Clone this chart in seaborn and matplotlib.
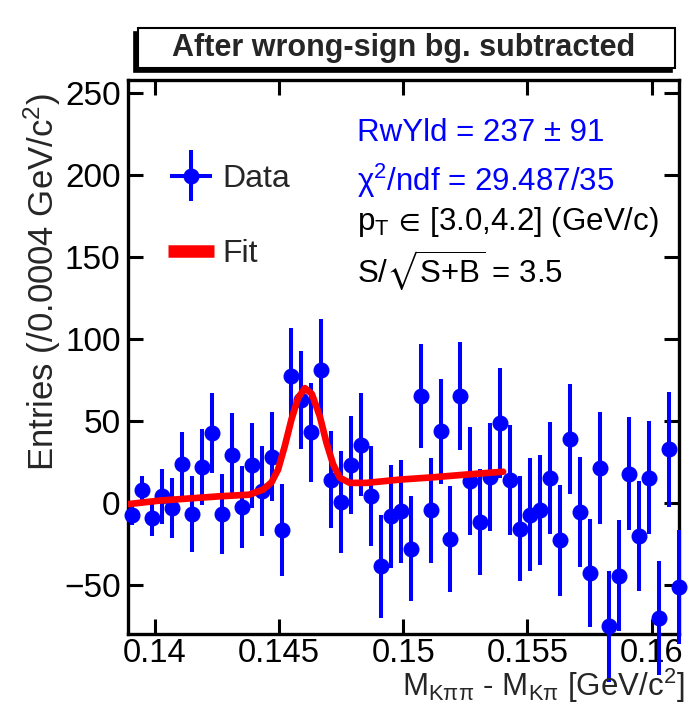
import matplotlib
matplotlib.use("Agg")
import matplotlib.pyplot as plt
import numpy as np
import pandas as pd
import seaborn as sns
from matplotlib.lines import Line2D
from matplotlib.patches import Rectangle
from matplotlib.container import ErrorbarContainer
from matplotlib.legend_handler import HandlerErrorbar

# ---------------- data ----------------
bin_centers = [0.1391, 0.1395, 0.1399, 0.1403, 0.1407, 0.1411, 0.1415, 0.1419,
               0.1423, 0.1427, 0.1431, 0.1435, 0.1439, 0.1443, 0.1447, 0.1451,
               0.1455, 0.1459, 0.1463, 0.1467, 0.1471, 0.1475, 0.1479, 0.1483,
               0.1487, 0.1491, 0.1495, 0.1499, 0.1503, 0.1507, 0.1511, 0.1515,
               0.1519, 0.1523, 0.1527, 0.1531, 0.1535, 0.1539, 0.1543, 0.1547,
               0.1551, 0.1555, 0.1559, 0.1563, 0.1567, 0.1571, 0.1575, 0.1579,
               0.1583, 0.1587, 0.1591, 0.1595, 0.1599, 0.1603, 0.1607, 0.1611]
entries = [-7.4, 8.1, -9.2, 4.0, -3.0, 23.8, -6.8, 21.8, 42.8, -6.5, 29.5, -2.4,
           23.0, 7.5, 28.2, -16.6, 77.4, 62.6, 43.0, 81.0, 14.2, 0.4, 23.0, 35.6,
           4.0, -38.7, -8.2, -5.1, -28.1, 65.2, -4.5, 43.8, -22.0, 65.2, 13.2, -11.8,
           15.8, 48.9, 14.2, -15.9, -7.2, -4.1, 15.3, -22.8, 39.1, -5.7, -42.8, 21.4,
           -75.4, -44.4, 17.9, -20.4, 15.3, -70.3, 32.6, -51.3]
errors = [6.0, 8.0, 11.0, 16.8, 18.2, 19.3, 22.9, 23.4, 24.4, 24.4, 25.5, 24.9,
          25.9, 27.5, 27.0, 28.0, 29.4, 30.0, 30.0, 31.0, 29.5, 31.0, 30.0, 31.5,
          30.5, 31.5, 31.5, 31.5, 32.0, 31.5, 32.0, 32.0, 32.5, 33.0, 33.0, 32.5,
          33.0, 33.5, 33.5, 32.0, 34.5, 33.5, 34.0, 34.0, 33.5, 33.5, 33.0, 34.0,
          34.0, 34.0, 34.5, 33.5, 34.5, 35.0, 35.0, 35.0]
half_bin = 0.0002

fit_x = [0.1389, 0.1402, 0.1413, 0.1426, 0.1438, 0.14436, 0.1447, 0.14496,
         0.14523, 0.1455, 0.14577, 0.14604, 0.14632, 0.14664, 0.14691, 0.14718,
         0.14745, 0.14785, 0.14852, 0.14986, 0.1512, 0.15255, 0.15402]
fit_y = [-0.8, 1.4, 2.6, 4.0, 5.0, 8.1, 12.6, 20.3, 34.6, 50.9, 64.1, 70.0,
         66.5, 52.9, 36.6, 23.4, 15.3, 12.2, 12.2, 14.2, 15.6, 17.3, 19.0]

x_ticks = [0.14, 0.145, 0.15, 0.155, 0.16]
x_tick_labels = ["0.14", "0.145", "0.15", "0.155", "0.16"]
y_ticks = [-50, 0, 50, 100, 150, 200, 250]

title_text = "After wrong-sign bg. subtracted"
info_lines = ["RwYld = 237 ± 91", r"χ$^{2}$/ndf = 29.487/35",
              r"p$_{\mathrm{T}}\,{\in}\,$[3.0,4.2] (GeV/c)", r"S/$\sqrt{\mathrm{S{+}B}}$ = 3.5"]
info_colors = ["#0000ff", "#0000ff", "black", "black"]

# ---------------- style ----------------
sns.set_theme(style="ticks")
plt.rcParams['font.family'] = ['Liberation Sans', 'DejaVu Sans']
plt.rcParams['mathtext.fontset'] = 'custom'
plt.rcParams['mathtext.rm'] = 'Liberation Sans'
plt.rcParams['mathtext.it'] = 'Liberation Sans:italic'
plt.rcParams['mathtext.bf'] = 'Liberation Sans:bold'
plt.rcParams['mathtext.sf'] = 'Liberation Sans'
plt.rcParams['mathtext.default'] = 'regular'
plt.rcParams['mathtext.fallback'] = 'stixsans'

W, H = 695, 704
fig = plt.figure(figsize=(W / 100, H / 100), dpi=100)
fig.patch.set_facecolor("white")

def fx(px):
    return px / W

def fy(py):
    return 1 - py / H

ax = fig.add_axes([fx(127.5), fy(634), fx(679) - fx(127.5), fy(80) - fy(634)])
ax.set_facecolor("white")

df = pd.DataFrame({"x": bin_centers, "y": entries, "err": errors})
fit_df = pd.DataFrame({"x": fit_x, "y": fit_y})

blue = "#0000ff"
eb = ax.errorbar(df["x"], df["y"], yerr=df["err"], xerr=half_bin, fmt="o",
                 color=blue, ms=10.5, elinewidth=2.9, capsize=0, zorder=3,
                 clip_on=False)
sns.lineplot(data=fit_df, x="x", y="y", ax=ax, color="#ff0000", lw=4.8,
             zorder=4, sort=False)

ax.set_xlim(0.1389, 0.1611)
ax.set_ylim(-80, 258)
ax.set_xticks(x_ticks)
ax.set_xticklabels(x_tick_labels)
ax.set_yticks(y_ticks)
ax.minorticks_off()
ax.tick_params(axis="both", which="major", direction="in", length=11, width=2.2,
               labelsize=24, top=True, right=True, color="black", labelcolor="black")
ax.tick_params(axis="x", pad=3, labelsize=23.5)
ax.tick_params(axis="y", pad=5)
for s in ax.spines.values():
    s.set_visible(True)
    s.set_linewidth(2.4)
    s.set_color("black")
ax.set_xlabel("")
ax.set_ylabel("")

# axis titles
fig.text(fx(42), fy(471), r"Entries (/0.0004 GeV/c$^{2}$)", rotation=90,
         ha="center", va="bottom", fontsize=25)
fig.text(fx(684), fy(696), r"M$_{\mathrm{K\pi\pi}}$ - M$_{\mathrm{K\pi}}$ [GeV/c$^{2}$]",
         ha="right", va="baseline", fontsize=22.5)

# title box with shadow
fig.patches.append(Rectangle((fx(134), fy(72)), fx(672) - fx(134), fy(32) - fy(72),
                             transform=fig.transFigure, facecolor="black",
                             edgecolor="black", lw=1.2, zorder=1))
fig.patches.append(Rectangle((fx(138), fy(68)), fx(675) - fx(138), fy(28) - fy(68),
                             transform=fig.transFigure, facecolor="white",
                             edgecolor="black", lw=1.5, zorder=2))
fig.text(fx(404), fy(48), title_text, ha="center", va="center",
         fontsize=22, fontweight="bold", zorder=3)

# legend
fit_handle = Line2D([], [], color="#ff0000", lw=9, solid_capstyle="butt")
leg = ax.legend([eb, fit_handle], ["Data", "Fit"], loc="upper left",
                bbox_to_anchor=(fx(168), fy(164)), bbox_transform=fig.transFigure,
                frameon=False, fontsize=23, handlelength=1.45, handletextpad=0.25,
                labelspacing=1.42, borderpad=0, borderaxespad=0,
                handler_map={ErrorbarContainer: HandlerErrorbar(xerr_size=0.65, yerr_size=0.8)})

# info text
info_y = [133, 181, 222, 270]
for txt, col, yy in zip(info_lines, info_colors, info_y):
    fig.text(fx(357), fy(yy), txt, color=col, ha="left", va="center", fontsize=22.5)

fig.savefig("out.png", dpi=100, facecolor="white")
